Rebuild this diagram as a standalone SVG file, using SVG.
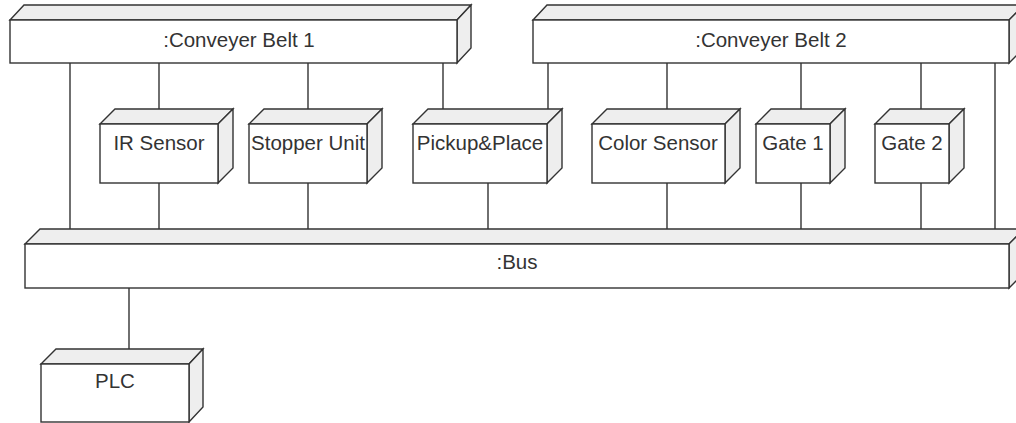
<svg xmlns="http://www.w3.org/2000/svg" width="1016" height="423" viewBox="0 0 1016 423">
<style>
.front{fill:#ffffff;stroke:#333333;stroke-width:1.4}
.face{fill:#eeeeee;stroke:#333333;stroke-width:1.4;stroke-linejoin:miter}
.lbl{font-family:"Liberation Sans",Arial,sans-serif;font-size:20.5px;fill:#333333;text-anchor:middle}
.conn path{stroke:#333333;stroke-width:1.4;fill:none}
</style>
<rect width="1016" height="423" fill="#ffffff"/>
<g id="connectors" class="conn">
<path d="M70 63V229"/>
<path d="M159 63V109"/><path d="M159 183V229"/>
<path d="M308 63V109"/><path d="M308 183V229"/>
<path d="M443 63V109"/><path d="M548 63V109"/>
<path d="M488 183V229"/>
<path d="M667 63V109"/><path d="M667 183V229"/>
<path d="M801 63V109"/><path d="M801 183V229"/>
<path d="M921 63V109"/><path d="M921 183V229"/>
<path d="M995 63V229"/>
<path d="M129 288V349"/>
</g>
<g id="belt1">
<polygon class="face" points="10,20 24,5 471,5 457,20"/>
<polygon class="face" points="457,20 471,5 471,48 457,63"/>
<rect class="front" x="10" y="20" width="447" height="43"/>
<text class="lbl" x="239" y="47">:Conveyer Belt 1</text>
</g>
<g id="belt2">
<polygon class="face" points="533,20 547,5 1024,5 1009,20"/>
<polygon class="face" points="1009,20 1024,5 1024,48 1009,63"/>
<rect class="front" x="533" y="20" width="476" height="43"/>
<text class="lbl" x="771" y="47">:Conveyer Belt 2</text>
</g>
<g id="ir-sensor">
<polygon class="face" points="100,124 115,109 233,109 218,124"/>
<polygon class="face" points="218,124 233,109 233,168 218,183"/>
<rect class="front" x="100" y="124" width="118" height="59"/>
<text class="lbl" x="159" y="150">IR Sensor</text>
</g>
<g id="stopper-unit">
<polygon class="face" points="249,124 264,109 382,109 367,124"/>
<polygon class="face" points="367,124 382,109 382,168 367,183"/>
<rect class="front" x="249" y="124" width="118" height="59"/>
<text class="lbl" x="308" y="150">Stopper Unit</text>
</g>
<g id="pickup-place">
<polygon class="face" points="413,124 428,109 562,109 547,124"/>
<polygon class="face" points="547,124 562,109 562,168 547,183"/>
<rect class="front" x="413" y="124" width="134" height="59"/>
<text class="lbl" x="480" y="150">Pickup&amp;Place</text>
</g>
<g id="color-sensor">
<polygon class="face" points="592,124 607,109 740,109 725,124"/>
<polygon class="face" points="725,124 740,109 740,168 725,183"/>
<rect class="front" x="592" y="124" width="133" height="59"/>
<text class="lbl" x="658" y="150">Color Sensor</text>
</g>
<g id="gate1">
<polygon class="face" points="756,124 771,109 845,109 830,124"/>
<polygon class="face" points="830,124 845,109 845,168 830,183"/>
<rect class="front" x="756" y="124" width="74" height="59"/>
<text class="lbl" x="793" y="150">Gate 1</text>
</g>
<g id="gate2">
<polygon class="face" points="875,124 890,109 964,109 949,124"/>
<polygon class="face" points="949,124 964,109 964,168 949,183"/>
<rect class="front" x="875" y="124" width="74" height="59"/>
<text class="lbl" x="912" y="150">Gate 2</text>
</g>
<g id="bus">
<polygon class="face" points="25,244 40,229 1024,229 1009,244"/>
<polygon class="face" points="1009,244 1024,229 1024,273 1009,288"/>
<rect class="front" x="25" y="244" width="984" height="44"/>
<text class="lbl" x="517" y="269">:Bus</text>
</g>
<g id="plc">
<polygon class="face" points="41,364 56,349 203,349 189,364"/>
<polygon class="face" points="189,364 203,349 203,407 189,422"/>
<rect class="front" x="41" y="364" width="148" height="58"/>
<text class="lbl" x="115" y="388">PLC</text>
</g>
</svg>
